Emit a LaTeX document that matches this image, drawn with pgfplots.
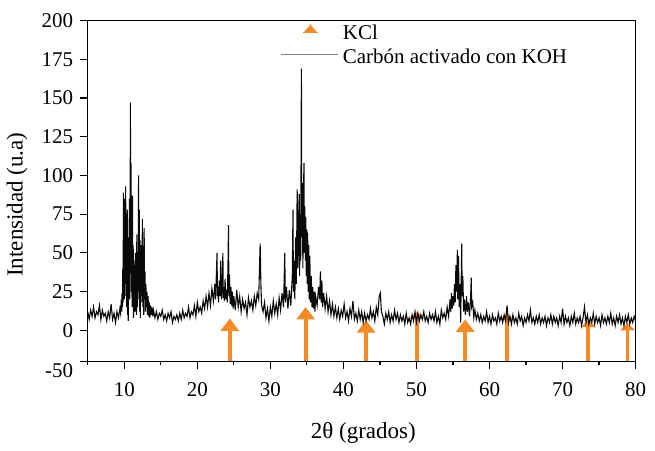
\documentclass[border=0pt]{standalone}
\usepackage{fontspec}
\setmainfont{Liberation Serif}
\usepackage{pgfplots}
\pgfplotsset{compat=1.18}
\usetikzlibrary{arrows.meta}
\definecolor{kcl}{RGB}{246,138,36}
\definecolor{xrd}{RGB}{10,10,10}

\begin{document}
\begin{tikzpicture}
\begin{axis}[
  name=ax,
  scale only axis,
  width=274.3pt, height=170.5pt,
  xmin=5, xmax=80, ymin=-20, ymax=200,
  axis line style={line width=0.6pt},
  tick pos=left, tick align=outside,
  major tick length=3.8pt, minor tick length=2pt,
  every tick/.style={black, line width=0.6pt},
  xtick={10,20,...,80}, minor xtick={5,15,...,75},
  ytick={0,25,...,200},
  yticklabels={0,25,50,75,100,125,150,175,200},
  extra y ticks={-20}, extra y tick labels={-50},
  extra y tick style={yticklabel style={yshift=-4.5pt}},
  /pgf/number format/assume math mode=true,
  ticklabel style={font=\fontsize{10.5}{12}\selectfont},
  xticklabel style={yshift=-3.5pt},
  xlabel={2θ (grados)}, ylabel={Intensidad (u.a)},
  label style={font=\fontsize{11.5}{13}\selectfont},
  xlabel style={at={(axis description cs:0.503,-0.212)}, anchor=center},
  ylabel style={at={(axis description cs:-0.129,0.46)}, anchor=center},
  legend style={draw=none, fill=none, at={(axis description cs:0.352,1)}, anchor=north west,
    inner sep=0pt, row sep=-0.7pt, font=\fontsize{10.5}{12}\selectfont},
  legend cell align=left,
]
% KCl reference positions (arrows drawn from the bottom of the axis)
\addplot[kcl, line width=1.9pt, no markers, quiver={u=0, v=\thisrow{v}},
  -{Triangle[width=9pt, length=6.2pt]},
  legend image code/.code={\fill[kcl, line width=0pt] (11pt,0.5pt) -- (18pt,0.5pt) -- (14.5pt,4.5pt) -- cycle;}]
  table {
x y v
24.45 -20 27.6
34.83 -20 35
43.1 -20 26.5
56.67 -20 27
};
\addlegendentry{KCl}
\addplot[kcl, line width=1.9pt, no markers, quiver={u=0, v=\thisrow{v}},
  -{Triangle[width=7.5pt, length=3.5pt]}, forget plot]
  table {
x y v
50.07 -20 32
62.37 -20 31
73.53 -20 26.5
78.9 -20 24.5
};
% XRD pattern
\addplot[xrd, line width=0.55pt, no markers,
  legend image code/.code={\draw[gray, line width=0.5pt] (0pt,2pt) -- (28.5pt,2pt);}]
  coordinates {
(5.0,12)(5.2,7)(5.4,13)(5.6,9)(5.8,15)(6.0,8)(6.2,12)(6.4,10)(6.6,16)(6.8,7)
(7.0,13)(7.2,9)(7.4,11)(7.6,6)(7.8,12)(8.0,8)(8.2,17)(8.4,7)(8.6,11)(8.8,5)
(9.0,12)(9.2,8)(9.4,14)
(9.5,11)(9.6,20)(9.65,12)(9.7,24)(9.75,15)(9.8,40)(9.85,18)(9.88,89)(9.92,25)(9.96,70)
(10.0,20)(10.05,85)(10.1,30)(10.15,60)(10.19,93)(10.23,22)(10.28,68)(10.32,15)(10.37,55)(10.42,78)
(10.46,10)(10.5,45)(10.55,6)(10.6,60)(10.65,30)(10.7,85)(10.75,20)(10.8,50)(10.84,147)(10.88,40)
(10.92,108)(10.97,25)(11.02,80)(11.07,15)(11.12,87)(11.17,30)(11.22,55)(11.27,8)(11.32,45)(11.37,18)
(11.42,40)(11.47,12)(11.52,50)(11.57,22)(11.62,35)(11.67,10)(11.72,62)(11.78,15)(11.84,45)(11.9,25)
(11.96,100)(12.0,20)(12.05,78)(12.1,12)(12.15,58)(12.2,8)(12.25,40)(12.3,18)(12.35,55)(12.42,22)
(12.48,72)(12.54,15)(12.6,48)(12.66,10)(12.72,66)(12.78,20)(12.84,38)(12.9,12)(12.96,30)(13.02,15)
(13.1,25)(13.18,10)(13.26,22)(13.34,9)(13.42,18)(13.5,8)(13.6,16)(13.7,10)(13.8,15)(13.9,9)
(14.0,13)(14.2,8)(14.4,12)(14.6,7)(14.8,11)(15.0,9)(15.2,13)(15.4,7)(15.6,10)(15.8,6)
(16.0,11)(16.2,8)(16.4,12)(16.6,5)(16.8,9)(17.0,7)(17.2,10)(17.4,6)(17.6,11)(17.8,7)
(18.0,13)(18.2,8)(18.4,11)(18.6,9)(18.8,15)(19.0,8)(19.2,12)(19.4,10)
(19.6,16)(19.8,9)(20.0,18)(20.2,12)(20.4,15)(20.6,11)(20.8,19)(21.0,14)(21.2,22)(21.4,15)
(21.6,24)(21.8,16)(22.0,27)(22.2,19)(22.4,30)
(22.5,20)(22.6,35)(22.7,50)(22.75,22)(22.8,28)(22.9,18)(23.0,32)(23.1,22)(23.2,45)(23.3,20)
(23.4,30)(23.5,50)(23.55,21)(23.6,28)(23.7,19)(23.8,33)(23.9,20)(24.0,26)(24.1,18)(24.2,43)
(24.27,68)(24.32,22)(24.4,36)(24.5,17)(24.6,28)(24.7,16)(24.8,25)(24.9,14)(25.0,22)
(25.2,13)(25.4,26)(25.6,15)(25.8,22)(26.0,12)(26.2,20)(26.4,14)(26.6,18)(26.8,10)(27.0,21)
(27.2,15)(27.4,19)(27.6,13)(27.8,22)(28.0,16)(28.2,24)(28.4,20)
(28.5,38)(28.6,56)(28.65,45)(28.7,30)(28.8,16)
(29.0,12)(29.2,18)(29.4,8)(29.6,14)(29.8,6)(30.0,15)(30.2,9)(30.4,19)(30.6,11)(30.8,17)
(31.0,10)(31.2,21)(31.4,13)(31.6,24)(31.8,15)(31.97,50)(32.05,18)(32.2,28)(32.4,14)(32.6,26)
(32.8,16)(33.0,35)(33.1,78)(33.15,25)(33.25,45)(33.35,20)(33.45,60)(33.55,30)(33.67,91)(33.75,40)
(33.85,70)(33.95,88)(34.0,35)(34.08,75)(34.15,45)(34.25,169)(34.3,60)(34.38,95)(34.45,40)(34.52,85)
(34.6,108)(34.65,50)(34.72,80)(34.8,45)(34.85,73)(34.92,35)(35.0,65)(35.05,30)(35.1,63)(35.18,25)
(35.25,55)(35.32,20)(35.4,48)(35.5,18)(35.6,35)(35.7,15)(35.8,28)(35.9,14)(36.0,25)(36.1,12)
(36.2,22)(36.4,16)(36.6,28)(36.75,20)(36.85,38)(36.95,18)(37.05,32)(37.15,15)(37.3,24)(37.5,14)
(37.7,22)(37.9,12)(38.1,19)(38.3,10)(38.5,17)(38.7,9)(38.9,15)(39.1,8)(39.3,14)(39.5,7)
(39.7,13)(39.9,9)(40.1,17)(40.3,8)(40.5,12)(40.7,6)(40.9,14)(41.1,9)(41.3,19)(41.5,7)
(41.7,11)(41.9,6)(42.1,13)(42.3,7)(42.5,12)(42.7,5)(42.9,11)(43.1,6)(43.3,10)(43.5,7)
(43.7,14)(43.9,8)(44.1,12)(44.3,6)(44.5,15)(44.7,10)(44.9,22)(45.05,24)(45.2,12)(45.4,9)
(45.6,4)(45.8,11)(46.0,7)(46.2,12)(46.4,5)(46.6,10)(46.8,6)(47.0,13)(47.2,7)(47.4,11)
(47.6,5)(47.8,10)(48.0,6)(48.2,9)(48.4,4)(48.6,11)(48.8,5)(49.0,8)(49.2,4)(49.4,10)
(49.6,6)(49.8,12)(50.0,5)(50.2,11)(50.4,6)(50.6,10)(50.8,7)(51.0,12)(51.2,6)(51.4,9)
(51.6,5)(51.8,11)(52.0,7)(52.2,10)(52.4,6)(52.6,12)(52.8,5)(53.0,9)(53.2,4)(53.4,13)
(53.6,8)(53.8,11)(54.0,7)(54.2,15)(54.4,9)(54.6,20)(54.7,12)(54.8,24)(54.9,14)(55.0,22)
(55.1,16)(55.2,30)(55.3,18)(55.4,42)(55.5,25)(55.6,52)(55.65,20)(55.75,48)(55.85,15)(55.95,30)
(56.05,5)(56.15,40)(56.2,56)(56.25,22)(56.35,35)(56.45,12)(56.55,20)(56.7,10)(56.85,22)(56.95,12)
(57.1,18)(57.25,9)(57.4,20)(57.5,34)(57.55,15)(57.7,18)(57.85,8)(58.0,13)(58.2,7)(58.4,11)
(58.6,6)(58.8,10)(59.0,5)(59.2,9)(59.4,6)(59.6,12)(59.8,5)(60.0,9)(60.2,4)(60.4,10)
(60.6,6)(60.8,8)(61.0,4)(61.2,11)(61.4,6)(61.6,9)(61.8,5)(62.0,10)(62.2,6)(62.4,16)
(62.6,5)(62.8,9)(63.0,4)(63.2,10)(63.4,5)(63.6,8)(63.8,4)(64.0,11)(64.2,6)(64.4,9)
(64.6,3)(64.8,8)(65.0,5)(65.2,10)(65.4,6)(65.6,13)(65.8,5)(66.0,8)(66.2,4)(66.4,9)
(66.6,5)(66.8,10)(67.0,4)(67.2,8)(67.4,5)(67.6,9)(67.8,3)(68.0,8)(68.2,5)(68.4,10)
(68.6,4)(68.8,9)(69.0,5)(69.2,8)(69.4,3)(69.6,9)(69.8,5)(70.0,14)(70.2,4)(70.4,9)
(70.6,5)(70.8,8)(71.0,3)(71.2,9)(71.4,5)(71.6,11)(71.8,4)(72.0,8)(72.2,5)(72.4,9)
(72.6,3)(72.8,8)(73.0,15)(73.2,5)(73.4,10)(73.6,4)(73.8,8)(74.0,5)(74.2,11)(74.4,4)
(74.6,9)(74.8,5)(75.0,8)(75.2,3)(75.4,10)(75.6,5)(75.8,8)(76.0,4)(76.2,9)(76.4,5)
(76.6,11)(76.8,4)(77.0,8)(77.2,3)(77.4,9)(77.6,5)(77.8,10)(78.0,4)(78.2,8)(78.4,3)
(78.6,9)(78.8,5)(79.0,10)(79.2,4)(79.4,8)(79.6,5)(79.8,9)(80.0,6)
};
\addlegendentry{Carbón activado con KOH}
\end{axis}
\path (ax.south west) ++(-43.5pt,-41.65pt) coordinate (bbsw);
\path (ax.north east) ++(9.7pt,10.35pt) coordinate (bbne);
\path[use as bounding box] (bbsw) rectangle (bbne);
\end{tikzpicture}
\end{document}
